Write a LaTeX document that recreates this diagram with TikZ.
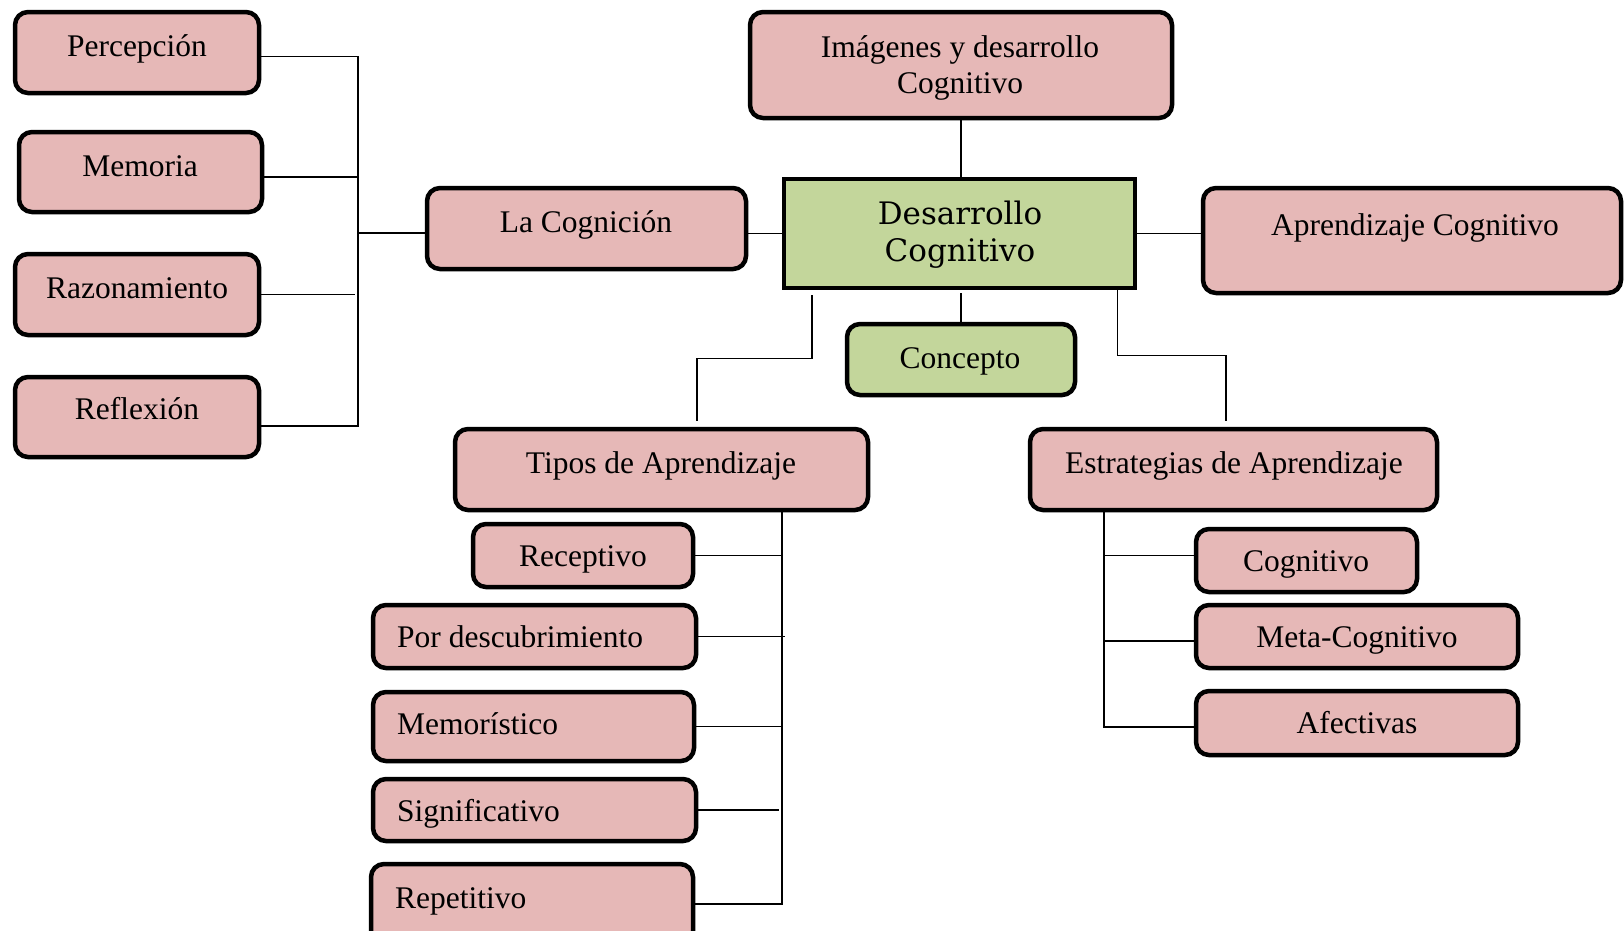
\documentclass[tikz,border=0pt]{standalone}
\usepackage{fontspec}
\setmainfont{Liberation Serif}
\newfontfamily\desfont{DejaVu Serif}
\definecolor{pinkfill}{HTML}{E6B8B7}
\definecolor{greenfill}{HTML}{C3D69B}
\begin{document}
\begin{tikzpicture}[x=1pt,y=-1pt,
  pbox/.style={draw=black, line width=4.5pt, rounded corners=13pt, fill=pinkfill, inner sep=0pt},
  gbox/.style={pbox, fill=greenfill},
  sbox/.style={draw=black, line width=4.5pt, fill=greenfill, inner sep=0pt},
  lbl/.style={font=\fontsize{31.5}{36}\selectfont, inner sep=0pt, anchor=base},
  lblw/.style={lbl, anchor=base west},
  conn/.style={draw=black, line width=1.5pt}]
\useasboundingbox (0,0) rectangle (1624,930);
\clip (0,0) rectangle (1624,930);

% boxes
\node[pbox, minimum width=244pt, minimum height=81pt] (perc) at (137,52.5) {};
\node[pbox, minimum width=243pt, minimum height=80pt] (mem) at (140.5,172) {};
\node[pbox, minimum width=244pt, minimum height=81pt] (raz) at (137,294.5) {};
\node[pbox, minimum width=244pt, minimum height=80pt] (refl) at (137,417) {};
\node[pbox, minimum width=319pt, minimum height=81pt] (cog) at (586.5,228.5) {};
\node[pbox, minimum width=422pt, minimum height=106pt] (img) at (961,65) {};
\node[sbox, minimum width=351pt, minimum height=109pt] (des) at (959.5,233.5) {};
\node[pbox, minimum width=418pt, minimum height=105pt] (apr) at (1412,240.5) {};
\node[gbox, minimum width=228pt, minimum height=71pt] (conc) at (961,359.5) {};
\node[pbox, minimum width=413pt, minimum height=81pt] (tip) at (661.5,469.5) {};
\node[pbox, minimum width=407pt, minimum height=81pt] (est) at (1233.5,469.5) {};
\node[pbox, minimum width=220pt, minimum height=63pt] (rec) at (583,555.5) {};
\node[pbox, minimum width=323pt, minimum height=63pt] (por) at (534.5,636.5) {};
\node[pbox, minimum width=321pt, minimum height=69pt] (memo) at (533.5,726.5) {};
\node[pbox, minimum width=323pt, minimum height=62pt] (sig) at (534.5,810) {};
\node[pbox, minimum width=322pt, minimum height=80pt] (rep) at (532,904) {};
\node[pbox, minimum width=221pt, minimum height=63pt] (cogn) at (1306.5,560.5) {};
\node[pbox, minimum width=322pt, minimum height=63pt] (meta) at (1357,636.5) {};
\node[pbox, minimum width=322pt, minimum height=64pt] (afe) at (1357,723) {};

% texts
\node[lbl] (perc-t) at (137,56) {Percepción};
\node[lbl] (mem-t) at (140,176) {Memoria};
\node[lbl] (raz-t) at (137,298) {Razonamiento};
\node[lbl] (refl-t) at (137,419) {Reflexión};
\node[lbl] (cog-t) at (586,232) {La Cognición};
\node[lbl, anchor=center, align=center] (img-t) at (960,67.5) {Imágenes y desarrollo\\Cognitivo};
\node[inner sep=0pt, anchor=center, align=center, font=\desfont\fontsize{31}{37}\selectfont] (des-t) at (960,235) {Desarrollo\\Cognitivo};
\node[lbl] (apr-t) at (1415,235) {Aprendizaje Cognitivo};
\node[lbl] (conc-t) at (960,368) {Concepto};
\node[lbl] (tip-t) at (661,473) {Tipos de Aprendizaje};
\node[lbl] (est-t) at (1234,473) {Estrategias de Aprendizaje};
\node[lbl] (rec-t) at (583,566) {Receptivo};
\node[lblw] (por-t) at (397,647) {Por descubrimiento};
\node[lblw] (memo-t) at (397,734) {Memorístico};
\node[lblw] (sig-t) at (397,821) {Significativo};
\node[lblw] (rep-t) at (395,908) {Repetitivo};
\node[lbl] (cogn-t) at (1306,571) {Cognitivo};
\node[lbl] (meta-t) at (1357,647) {Meta-Cognitivo};
\node[lbl] (afe-t) at (1357,733) {Afectivas};

% connectors: left bracket
\coordinate (jl) at (358,233);
\draw[conn] ([yshift=-4pt]perc.east) -| (jl);
\draw[conn] ([yshift=-5pt]mem.east) -| (jl);
\draw[conn] ([yshift=-9pt]refl.east) -| (jl);
\draw[conn] (raz.east) -- ++(94,0);
\draw[conn] (jl) -- (jl -| cog.west);
\draw[conn] (cog.east |- des.west) -- (des.west);

% centre
\draw[conn] (img.south) -- (img.south |- des.north);
\draw[conn] (des.east) -- (des.east -| apr.west);
\draw[conn, shorten <=3pt] (conc.north |- des.south) -- (conc.north);

\coordinate (tipTop) at (697,421);
\draw[conn] ([xshift=30pt,yshift=-5pt]des.south west) -- ++(0,63) -| (tipTop);
\coordinate (estTop) at (1226,421);
\draw[conn] ([xshift=-20pt]des.south east) -- ++(0,65) -| (estTop);

% tipos
\coordinate (tv) at ([xshift=120.5pt]tip.south);
\draw[conn] (tv) |- (rep.east);
\draw[conn] (rec.east) -- (rec.east -| tv);
\draw[conn] (por.east) -- ++(87,0);
\draw[conn] (memo.east) -- (memo.east -| tv);
\draw[conn] (sig.east) -- ++(81,0);

% estrategias
\coordinate (ev) at ([xshift=-129.5pt]est.south);
\draw[conn] (ev) |- ([yshift=-4pt]afe.west);
\draw[conn] ([yshift=5pt]cogn.west) -| (ev);
\draw[conn] ([yshift=-4.5pt]meta.west) -| (ev);
\end{tikzpicture}
\end{document}
